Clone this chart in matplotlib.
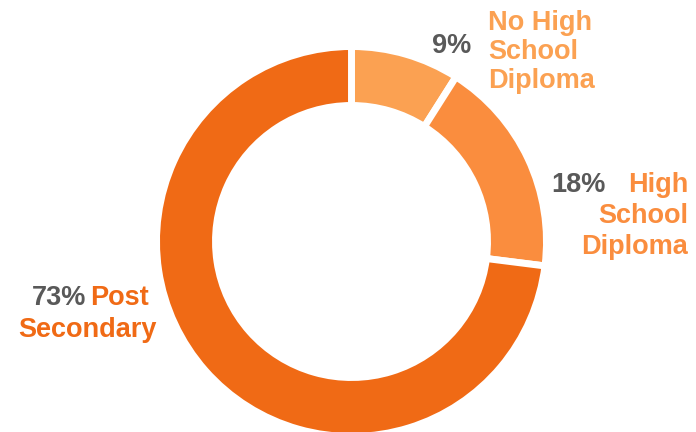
import matplotlib.pyplot as plt

plt.rcParams['font.family'] = ['Liberation Sans', 'DejaVu Sans']

# Data
categories = ["No High\nSchool\nDiploma", "High\nSchool\nDiploma", "Post\nSecondary"]
shares = [9, 18, 73]
pct_labels = ["9%", "18%", "73%"]
colors = ["#FBA152", "#FA8D3E", "#F06A15"]
gray = "#595959"

W, H = 696, 432
fig = plt.figure(figsize=(W / 100, H / 100), dpi=100)
ax = fig.add_axes([0, 0, 1, 1])

# donut, clockwise from 12 o'clock
cx, cy = 351.5, H - 241.5
ax.pie(shares, colors=colors, startangle=90, counterclock=False,
       center=(cx, cy), radius=195, frame=True,
       wedgeprops=dict(width=59, edgecolor="white", linewidth=5))
ax.set_xlim(0, W)
ax.set_ylim(0, H)
ax.set_aspect("equal")
ax.axis("off")

fs = 19.5
ls = 1.13
step = 31  # line step in pixels

def ty(y):
    return H - y

# 9% / No High School Diploma
ax.text(471, ty(46), pct_labels[0], color=gray, fontsize=fs, fontweight="bold",
        ha="right", va="center")
ax.text(488, ty(52), categories[0], color=colors[0], fontsize=fs, fontweight="bold",
        ha="left", va="center", linespacing=ls)

# 18% / High School Diploma
ax.text(606, ty(185), pct_labels[1], color=gray, fontsize=fs, fontweight="bold",
        ha="right", va="center")
for i, line in enumerate(categories[1].split("\n")):
    ax.text(688, ty(185 + i * step), line, color=colors[1], fontsize=fs,
            fontweight="bold", ha="right", va="center")

# 73% Post Secondary
post, second = categories[2].split("\n")
ax.text(86, ty(298), pct_labels[2], color=gray, fontsize=fs, fontweight="bold",
        ha="right", va="center")
ax.text(90, ty(298), post, color=colors[2], fontsize=fs, fontweight="bold",
        ha="left", va="center")
ax.text(87.5, ty(330), second, color=colors[2], fontsize=fs, fontweight="bold",
        ha="center", va="center")

plt.savefig("out.png", dpi=100)
plt.close()
